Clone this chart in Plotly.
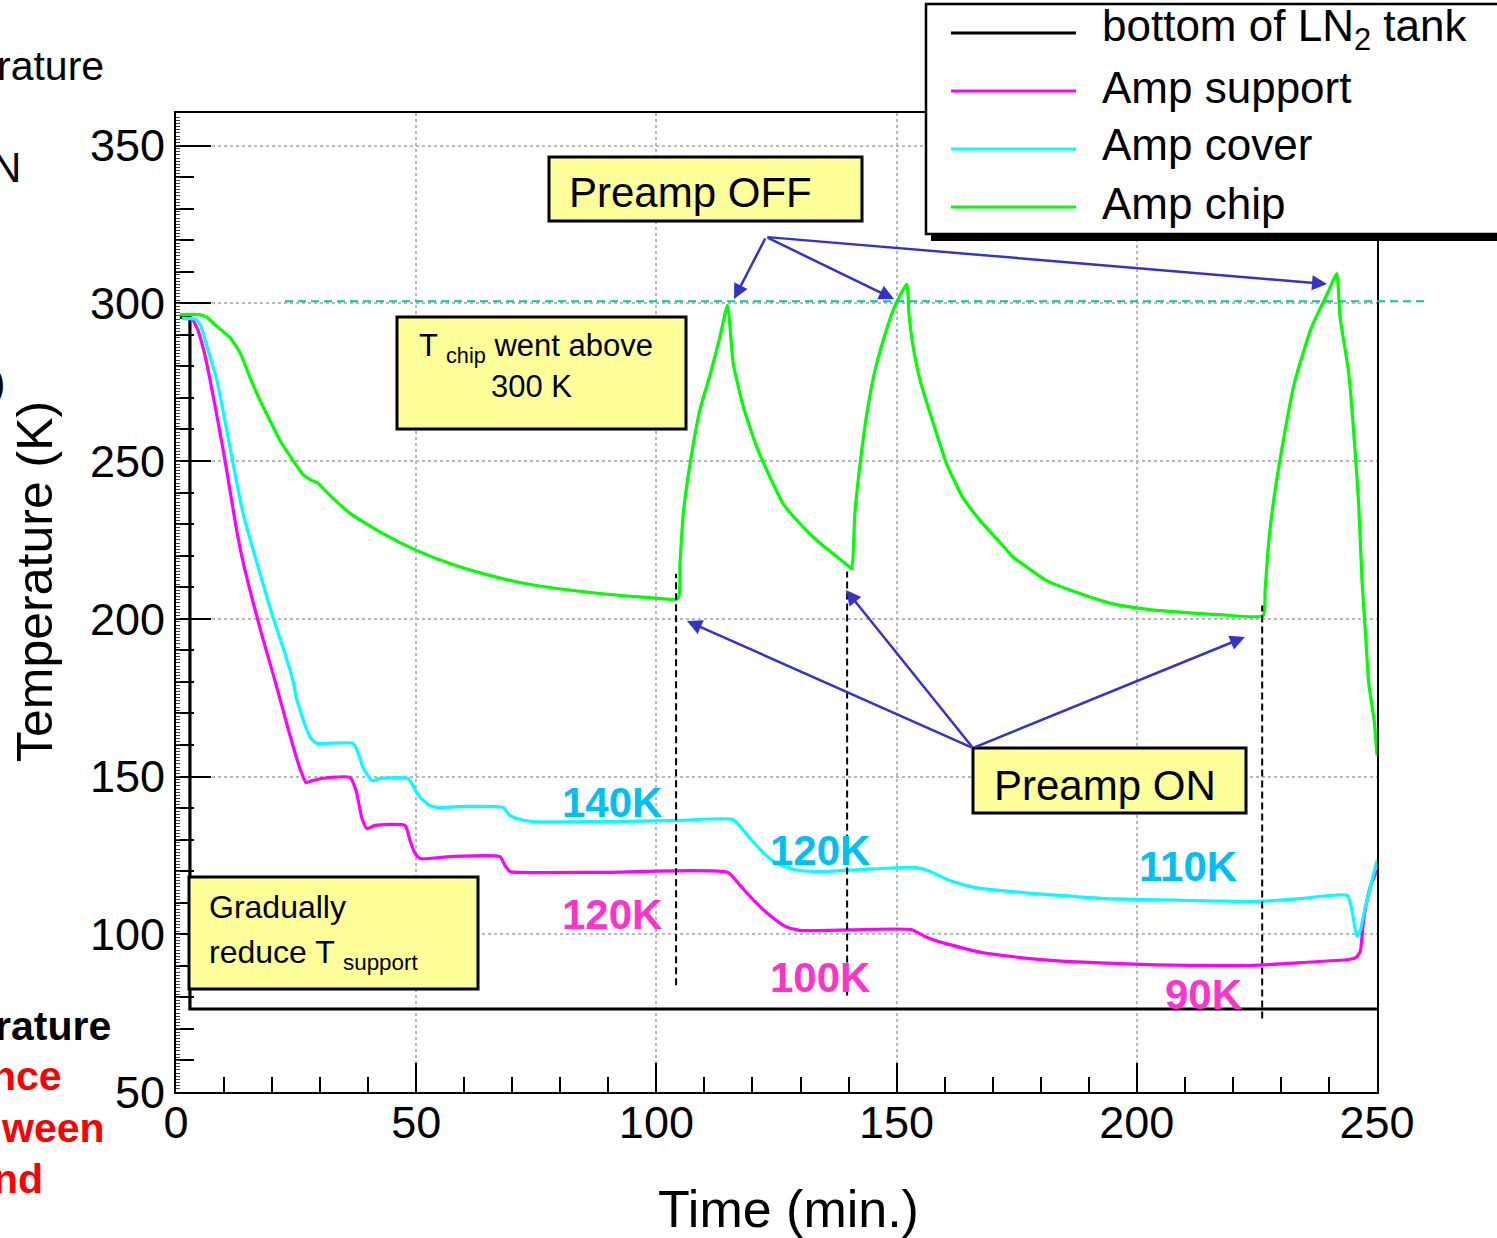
import plotly.graph_objects as go

# ---------------- data ----------------
series_names = ["bottom of LN<sub>2</sub> tank", "Amp support", "Amp cover", "Amp chip"]

time_ln2 = [0.8, 2.9, 2.9, 250.0]
temp_ln2 = [295.5, 295.5, 76.3, 76.3]

time_support = [1.25, 3.33, 4.58, 6.04, 8.12, 10.2, 12.28, 13.53, 15.4, 17.9, 20.6, 23.73, 25.81, 27.06,
                28.31, 32.06, 36.22, 37.47, 38.72, 39.76, 41.42, 47.67, 48.71, 49.75, 50.79, 57.04, 67.44,
                68.48, 69.53, 71.61, 88.26, 114.9, 117.4, 120.5, 123.6, 126.8, 129.9, 153.0, 155.9, 160.1,
                167.8, 177.8, 185.1, 202.3, 223.6, 234.0, 244.0, 245.6, 246.5, 247.1, 247.7, 248.7, 250.0]
temp_support = [295.2, 294.9, 291.4, 283.4, 267.6, 250.2, 231.1, 221.0, 209.0, 194.7, 180.4, 163.0, 152.5, 148.1,
                148.7, 149.7, 149.7, 145.6, 136.7, 133.5, 134.5, 134.5, 129.7, 125.6, 124.0, 124.6, 124.6,
                121.8, 119.9, 119.6, 119.6, 119.6, 115.5, 110.4, 106.0, 102.5, 101.2, 101.5, 99.3, 97.1,
                94.2, 92.3, 91.4, 90.4, 90.1, 91.0, 92.0, 92.6, 94.5, 103.1, 109.1, 115.5, 120.3]

time_cover = [1.25, 4.16, 5.2, 6.45, 8.53, 11.24, 13.95, 17.49, 20.19, 22.27, 24.35, 25.19, 27.27, 28.31,
              29.35, 36.84, 37.89, 38.93, 40.8, 42.46, 48.29, 49.54, 50.79, 52.87, 54.33, 60.57, 68.07,
              69.53, 70.98, 74.31, 88.26, 104.9, 115.9, 117.8, 119.9, 122.2, 124.7, 127.2, 129.9, 135.1,
              142.4, 153.8, 157.0, 161.1, 166.3, 176.3, 184.0, 193.6, 211.1, 225.6, 234.0, 243.8, 244.8,
              245.8, 246.5, 247.5, 248.7, 250.0]
temp_cover = [295.2, 294.9, 292.7, 286.3, 275.5, 254.3, 233.4, 214.3, 200.4, 190.9, 180.4, 174.1, 164.6, 161.7,
              160.5, 160.5, 157.6, 152.9, 148.7, 149.4, 149.4, 146.5, 143.4, 140.8, 140.2, 140.5, 140.2,
              137.6, 136.7, 135.7, 135.7, 136.1, 136.4, 133.5, 129.7, 125.9, 122.8, 121.2, 120.2, 119.9,
              120.5, 121.2, 119.9, 117.0, 114.8, 113.2, 112.3, 111.3, 110.7, 110.4, 111.3, 112.3, 107.5,
              99.3, 101.2, 108.2, 115.5, 123.4]

time_chip = [0.83, 5.0, 6.45, 8.12, 11.24, 13.32, 15.4, 17.49, 19.57, 21.65, 24.35, 26.44, 27.27, 28.31,
             29.35, 32.06, 36.22, 43.09, 50.17, 57.04, 63.91, 71.61, 77.85, 88.26, 98.67, 104.5,
             104.9, 105.6, 107.0, 109.1, 111.2, 113.2, 114.8,
             116.0, 118.1, 120.9, 123.0, 126.4, 129.9, 133.4, 136.8, 140.3,
             140.7, 141.3, 142.4, 143.8, 145.5, 147.2, 149.7, 152.1,
             152.6, 153.4, 154.9, 157.0, 160.4, 163.8, 167.4, 171.5, 174.3, 177.8, 181.2, 188.2, 195.1,
             202.7, 209.0, 217.3, 226.3,
             226.7, 227.3, 228.2, 230.0, 232.8, 236.4, 239.9, 241.6,
             242.3, 244.1, 245.5, 246.2, 246.9, 247.6, 248.3, 249.4, 250.0]
temp_chip = [296.4, 296.4, 295.5, 293.2, 289.1, 284.4, 276.5, 269.2, 262.8, 256.5, 250.2, 245.7, 244.8, 243.8,
             243.2, 239.1, 233.4, 227.0, 221.6, 217.5, 214.3, 211.5, 209.9, 208.0, 206.7, 206.4,
             217.4, 233.3, 249.1, 266.5, 277.5, 289.2, 299.3,
             280.8, 267.1, 254.4, 247.0, 236.4, 230.1, 224.8, 220.6, 216.3,
             215.8, 233.3, 249.1, 265.0, 278.7, 288.2, 299.3, 306.0,
             296.1, 286.6, 275.5, 265.0, 249.1, 238.4, 231.1, 224.2, 219.5, 215.6, 212.1, 208.0, 204.7,
             202.9, 202.1, 201.3, 201.0,
             208.9, 221.6, 234.3, 252.1, 274.7, 292.5, 303.8, 309.4,
             295.7, 278.0, 252.0, 235.9, 211.6, 195.4, 179.3, 167.9, 156.7]

# preamp switch-on times and the 300 K reference
preamp_on_times = [104.1, 139.7, 226.1]
preamp_on_spans = [(83.8, 214.3), (80.6, 215.0), (73.3, 204.2)]
ref_temp = 300.6

x_ticks = [0, 50, 100, 150, 200, 250]
y_ticks = [50, 100, 150, 200, 250, 300, 350]

# ---------------- layout geometry ----------------
W, H = 1497, 1238
X_RANGE = [0, 250]
Y_RANGE = [50, 360.3]
XDOM = [176 / W, 1377 / W]
YDOM = [1 - 1092 / H, 1 - 113 / H]


def px(x):
    return x / W


def py(y):
    return 1 - y / H


def ypaper(T):
    return YDOM[0] + (T - Y_RANGE[0]) / (Y_RANGE[1] - Y_RANGE[0]) * (YDOM[1] - YDOM[0])


FONT = "Liberation Sans, Arial, sans-serif"
colors = ["#000000", "#ff00ff", "#00ffff", "#00ff00"]
shapes_line = ["linear", "spline", "spline", "spline"]
series = [(time_ln2, temp_ln2), (time_support, temp_support), (time_cover, temp_cover), (time_chip, temp_chip)]

fig = go.Figure()
for (t, T), name, c, sh in zip(series, series_names, colors, shapes_line):
    fig.add_trace(go.Scatter(x=t, y=T, mode="lines", name=name,
                             line=dict(color=c, width=3.2, shape=sh, smoothing=0.5),
                             showlegend=False, hoverinfo="skip"))

# tiny third-level ticks on the left axis
fig.add_trace(go.Scatter(x=[None], y=[None], yaxis="y2", showlegend=False))

shapes = []
annotations = []

# vertical dashed lines (preamp ON)
for t, (lo, hi) in zip(preamp_on_times, preamp_on_spans):
    shapes.append(dict(type="line", xref="x", yref="y", x0=t, x1=t, y0=lo, y1=hi,
                       line=dict(color="black", width=2, dash="7px,4px"), layer="above"))

# 300 K dashed reference line
shapes.append(dict(type="line", xref="paper", yref="paper", x0=px(285), x1=px(1424),
                   y0=ypaper(ref_temp), y1=ypaper(ref_temp),
                   line=dict(color="#00cc99", width=2, dash="8px,5px"), layer="above"))

# yellow boxes
boxes = [(549, 157, 862, 221), (397, 317, 686, 429), (189, 877, 478, 989), (973, 748, 1246, 813)]
for x0, y0, x1, y1 in boxes:
    shapes.append(dict(type="rect", xref="paper", yref="paper", x0=px(x0), x1=px(x1), y0=py(y1), y1=py(y0),
                       fillcolor="#ffff99", line=dict(color="black", width=3), layer="above"))


def text(x, y, s, size, color="black", xanchor="left", bold=False, family=FONT, angle=0):
    if bold:
        s = "<b>" + s + "</b>"
    annotations.append(dict(x=px(x), y=py(y), xref="paper", yref="paper", text=s, showarrow=False,
                            xanchor=xanchor, yanchor="middle", textangle=angle,
                            font=dict(family=family, size=size, color=color)))


text(567, 192, "Preamp OFF", 42)
text(536, 348, "T <sub>chip</sub> went above", 31, xanchor="center")
text(531, 386, "300 K", 31, xanchor="center")
text(207, 907, "Gradually", 32)
text(207, 954, "reduce T <sub>support</sub>", 32)
text(992, 785, "Preamp ON", 42)

# temperature set-point labels
cyan_lab = "#00bff3"
pink_lab = "#ff33cc"
text(612, 802, "140K", 42, cyan_lab, "center", True)
text(820, 850, "120K", 42, cyan_lab, "center", True)
text(1188, 866, "110K", 42, cyan_lab, "center", True)
text(612, 914, "120K", 42, pink_lab, "center", True)
text(820, 977, "100K", 42, pink_lab, "center", True)
text(1203, 994, "90K", 42, pink_lab, "center", True)

# arrows
arrow_col = "#3333cc"
arrows = [((766, 237), (734, 299)), ((766, 237), (894, 299)), ((766, 237), (1327, 284)),
          ((973, 748), (687, 621)), ((973, 748), (846, 590)), ((973, 748), (1245, 637))]
for (tx, ty), (hx, hy) in arrows:
    annotations.append(dict(x=px(hx), y=py(hy), xref="paper", yref="paper", ax=tx - hx, ay=ty - hy,
                            axref="pixel", ayref="pixel", text="", showarrow=True, arrowhead=2,
                            arrowsize=1.2, arrowwidth=2.5, arrowcolor=arrow_col, standoff=0, startstandoff=0))

# legend (drawn manually, ROOT style)
shapes.append(dict(type="rect", xref="paper", yref="paper", x0=px(931), x1=px(1520), y0=py(241), y1=py(233),
                   fillcolor="black", line=dict(width=0), layer="above"))
shapes.append(dict(type="rect", xref="paper", yref="paper", x0=px(926), x1=px(1520), y0=py(234), y1=py(4),
                   fillcolor="white", line=dict(color="black", width=2.5), layer="above"))
leg_rows = [33, 91, 149, 207]
for name, c, yy in zip(series_names, colors, leg_rows):
    shapes.append(dict(type="line", xref="paper", yref="paper", x0=px(951), x1=px(1076), y0=py(yy), y1=py(yy),
                       line=dict(color=c, width=3), layer="above"))
    text(1100, yy - 4, name, 44)

# axis titles
text(35, 582, "Temperature (K)", 50, xanchor="center", angle=-90)
text(788, 1209, "Time (min.)", 52, xanchor="center")

# cut-off slide text at the left edge
text(106, 66, "rature", 41, xanchor="right")
text(23, 167, "N", 42, xanchor="right")
text(7, 383, ")", 40, xanchor="right")
text(113, 1026, "rature", 41, xanchor="right", bold=True)
text(64, 1076, "nce", 41, "#ff0000", "right", True)
text(107, 1128, "ween", 41, "#ff0000", "right", True)
text(45, 1179, "nd", 41, "#ff0000", "right", True)

fig.update_layout(
    width=W, height=H, autosize=False,
    margin=dict(l=0, r=0, t=0, b=0, pad=0, autoexpand=False),
    paper_bgcolor="white", plot_bgcolor="white",
    showlegend=False,
    xaxis=dict(range=X_RANGE, domain=XDOM, tickvals=x_ticks, ticks="inside", ticklen=29, tickwidth=1.5,
               tickcolor="black", showline=True, linecolor="black", linewidth=2, mirror=True,
               showgrid=True, gridcolor="#b8b8b8", gridwidth=1.5, griddash="dot", zeroline=False,
               automargin=False, ticklabelstandoff=-10,
               tickfont=dict(family=FONT, size=45, color="black"),
               minor=dict(dtick=10, tick0=0, ticks="inside", ticklen=15, tickwidth=1.5, tickcolor="black",
                          showgrid=False)),
    yaxis=dict(range=Y_RANGE, domain=YDOM, tickvals=y_ticks, ticks="inside", ticklen=35, tickwidth=1.5,
               tickcolor="black", showline=True, linecolor="black", linewidth=2, mirror=True,
               showgrid=True, gridcolor="#b8b8b8", gridwidth=1.5, griddash="dot", zeroline=False,
               automargin=False,
               tickfont=dict(family=FONT, size=45, color="black"),
               minor=dict(dtick=10, tick0=0, ticks="inside", ticklen=18, tickwidth=1.5, tickcolor="black",
                          showgrid=False)),
    yaxis2=dict(range=Y_RANGE, domain=YDOM, overlaying="y", side="left", anchor="x", dtick=1, tick0=0,
                ticks="inside", ticklen=4, tickwidth=1, tickcolor="#444444", showticklabels=False,
                showgrid=False, showline=False, zeroline=False, automargin=False),
    shapes=shapes,
    annotations=annotations,
)

fig.write_html("out.html")
